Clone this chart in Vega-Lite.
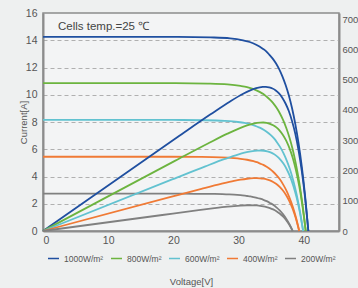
{
"$schema": "https://vega.github.io/schema/vega-lite/v6.json",
"width": 296, "height": 218,
"autosize": {"type": "none"},
"padding": {"left": 43, "top": 13, "right": 19, "bottom": 57},
"background": "#eef0f0",
"config": {
  "view": {"stroke": "#8c8c8c", "strokeWidth": 1.5, "fill": "#f3f4f5"},
  "axis": {"labelFont": "Liberation Sans", "titleFont": "Liberation Sans", "labelColor": "#555555", "titleColor": "#555555", "ticks": false, "domainColor": "#8c8c8c", "domainWidth": 2, "labelFontSize": 10.5, "titleFontWeight": "normal", "titleFontSize": 9.5, "grid": false},
  "text": {"font": "Liberation Sans"}
},
"datasets": {"curves": [
{"s":"1000W/m²","V":0,"I":14.25,"P":0},{"s":"1000W/m²","V":20.7,"I":14.25,"P":311.2},{"s":"1000W/m²","V":25.7,"I":14.21,"P":385.4},{"s":"1000W/m²","V":28.7,"I":14.14,"P":428.0},{"s":"1000W/m²","V":30.7,"I":13.99,"P":453.2},{"s":"1000W/m²","V":31.7,"I":13.87,"P":463.7},{"s":"1000W/m²","V":32.7,"I":13.67,"P":471.5},{"s":"1000W/m²","V":33.7,"I":13.38,"P":475.7},{"s":"1000W/m²","V":34.2,"I":13.20,"P":476.1},{"s":"1000W/m²","V":34.7,"I":12.95,"P":474.2},{"s":"1000W/m²","V":35.2,"I":12.67,"P":470.5},{"s":"1000W/m²","V":35.7,"I":12.33,"P":464.3},{"s":"1000W/m²","V":36.2,"I":11.90,"P":454.4},{"s":"1000W/m²","V":36.7,"I":11.37,"P":440.3},{"s":"1000W/m²","V":37.2,"I":10.73,"P":421.1},{"s":"1000W/m²","V":37.7,"I":9.96,"P":396.2},{"s":"1000W/m²","V":38.2,"I":9.01,"P":362.9},{"s":"1000W/m²","V":38.7,"I":7.85,"P":320.6},{"s":"1000W/m²","V":39.2,"I":6.43,"P":265.8},{"s":"1000W/m²","V":39.7,"I":4.70,"P":197.0},{"s":"1000W/m²","V":40.2,"I":2.58,"P":109.4},{"s":"1000W/m²","V":40.7,"I":0,"P":0},
{"s":"800W/m²","V":0,"I":10.85,"P":0},{"s":"800W/m²","V":20.3,"I":10.85,"P":232.4},{"s":"800W/m²","V":25.3,"I":10.82,"P":288.9},{"s":"800W/m²","V":28.3,"I":10.76,"P":321.4},{"s":"800W/m²","V":30.3,"I":10.65,"P":340.6},{"s":"800W/m²","V":31.3,"I":10.56,"P":348.6},{"s":"800W/m²","V":32.3,"I":10.41,"P":354.6},{"s":"800W/m²","V":33.3,"I":10.19,"P":357.9},{"s":"800W/m²","V":33.8,"I":10.05,"P":358.3},{"s":"800W/m²","V":34.3,"I":9.86,"P":356.9},{"s":"800W/m²","V":34.8,"I":9.65,"P":354.1},{"s":"800W/m²","V":35.3,"I":9.39,"P":349.5},{"s":"800W/m²","V":35.8,"I":9.06,"P":342.2},{"s":"800W/m²","V":36.3,"I":8.66,"P":331.6},{"s":"800W/m²","V":36.8,"I":8.17,"P":317.2},{"s":"800W/m²","V":37.3,"I":7.58,"P":298.5},{"s":"800W/m²","V":37.8,"I":6.86,"P":273.5},{"s":"800W/m²","V":38.3,"I":5.98,"P":241.6},{"s":"800W/m²","V":38.8,"I":4.89,"P":200.3},{"s":"800W/m²","V":39.3,"I":3.58,"P":148.5},{"s":"800W/m²","V":39.8,"I":1.96,"P":82.5},{"s":"800W/m²","V":40.3,"I":0,"P":0},
{"s":"600W/m²","V":0,"I":8.15,"P":0},{"s":"600W/m²","V":19.9,"I":8.15,"P":171.1},{"s":"600W/m²","V":24.9,"I":8.13,"P":213.6},{"s":"600W/m²","V":27.9,"I":8.08,"P":238.0},{"s":"600W/m²","V":29.9,"I":8.00,"P":252.5},{"s":"600W/m²","V":30.9,"I":7.93,"P":258.5},{"s":"600W/m²","V":31.9,"I":7.82,"P":263.0},{"s":"600W/m²","V":32.9,"I":7.65,"P":265.6},{"s":"600W/m²","V":33.4,"I":7.55,"P":265.9},{"s":"600W/m²","V":33.9,"I":7.41,"P":265.0},{"s":"600W/m²","V":34.4,"I":7.25,"P":262.9},{"s":"600W/m²","V":34.9,"I":7.05,"P":259.6},{"s":"600W/m²","V":35.4,"I":6.81,"P":254.1},{"s":"600W/m²","V":35.9,"I":6.50,"P":246.3},{"s":"600W/m²","V":36.4,"I":6.14,"P":235.7},{"s":"600W/m²","V":36.9,"I":5.70,"P":221.8},{"s":"600W/m²","V":37.4,"I":5.15,"P":203.2},{"s":"600W/m²","V":37.9,"I":4.49,"P":179.5},{"s":"600W/m²","V":38.4,"I":3.68,"P":148.9},{"s":"600W/m²","V":38.9,"I":2.69,"P":110.4},{"s":"600W/m²","V":39.4,"I":1.48,"P":61.3},{"s":"600W/m²","V":39.9,"I":0,"P":0},
{"s":"400W/m²","V":0,"I":5.45,"P":0},{"s":"400W/m²","V":19.3,"I":5.45,"P":111.0},{"s":"400W/m²","V":24.3,"I":5.44,"P":139.4},{"s":"400W/m²","V":27.3,"I":5.41,"P":155.7},{"s":"400W/m²","V":29.3,"I":5.35,"P":165.5},{"s":"400W/m²","V":30.3,"I":5.30,"P":169.5},{"s":"400W/m²","V":31.3,"I":5.23,"P":172.6},{"s":"400W/m²","V":32.3,"I":5.12,"P":174.4},{"s":"400W/m²","V":32.8,"I":5.05,"P":174.7},{"s":"400W/m²","V":33.3,"I":4.95,"P":174.1},{"s":"400W/m²","V":33.8,"I":4.85,"P":172.8},{"s":"400W/m²","V":34.3,"I":4.71,"P":170.6},{"s":"400W/m²","V":34.8,"I":4.55,"P":167.1},{"s":"400W/m²","V":35.3,"I":4.35,"P":162.0},{"s":"400W/m²","V":35.8,"I":4.10,"P":155.0},{"s":"400W/m²","V":36.3,"I":3.81,"P":145.9},{"s":"400W/m²","V":36.8,"I":3.44,"P":133.7},{"s":"400W/m²","V":37.3,"I":3.00,"P":118.2},{"s":"400W/m²","V":37.8,"I":2.46,"P":98.0},{"s":"400W/m²","V":38.3,"I":1.80,"P":72.7},{"s":"400W/m²","V":38.8,"I":0.99,"P":40.4},{"s":"400W/m²","V":39.3,"I":0,"P":0},
{"s":"200W/m²","V":0,"I":2.74,"P":0},{"s":"200W/m²","V":18.3,"I":2.74,"P":52.9},{"s":"200W/m²","V":23.3,"I":2.73,"P":67.2},{"s":"200W/m²","V":26.3,"I":2.72,"P":75.4},{"s":"200W/m²","V":28.3,"I":2.69,"P":80.3},{"s":"200W/m²","V":29.3,"I":2.67,"P":82.4},{"s":"200W/m²","V":30.3,"I":2.63,"P":84.0},{"s":"200W/m²","V":31.3,"I":2.57,"P":85.0},{"s":"200W/m²","V":31.8,"I":2.54,"P":85.1},{"s":"200W/m²","V":32.3,"I":2.49,"P":84.9},{"s":"200W/m²","V":32.8,"I":2.44,"P":84.3},{"s":"200W/m²","V":33.3,"I":2.37,"P":83.3},{"s":"200W/m²","V":33.8,"I":2.29,"P":81.6},{"s":"200W/m²","V":34.3,"I":2.19,"P":79.1},{"s":"200W/m²","V":34.8,"I":2.06,"P":75.8},{"s":"200W/m²","V":35.3,"I":1.92,"P":71.3},{"s":"200W/m²","V":35.8,"I":1.73,"P":65.4},{"s":"200W/m²","V":36.3,"I":1.51,"P":57.8},{"s":"200W/m²","V":36.8,"I":1.24,"P":48.0},{"s":"200W/m²","V":37.3,"I":0.90,"P":35.6},{"s":"200W/m²","V":37.8,"I":0.50,"P":19.8},{"s":"200W/m²","V":38.3,"I":0,"P":0}
],
"note": [{"x": 2.3, "y": 15.0, "t": "Cells temp.=25 ℃"}]},
"layer": [
  {
    "data": {"name": "curves"},
    "mark": {"type": "line", "interpolate": "monotone", "strokeWidth": 1.8},
    "encoding": {
      "x": {"field": "V", "type": "quantitative", "scale": {"domain": [0, 45.4], "nice": false}, "axis": {"values": [0, 10, 20, 30, 40], "labelPadding": 4, "title": "Voltage[V]", "titlePadding": 31}},
      "y": {"field": "I", "type": "quantitative", "scale": {"domain": [0, 16], "nice": false}, "axis": {"orient": "left", "values": [0, 2, 4, 6, 8, 10, 12, 14, 16], "grid": true, "gridDash": [4, 3], "gridColor": "#b0b0b0", "gridWidth": 1, "gridOpacity": {"condition": {"test": "datum.value == 0 || datum.value == 16", "value": 0}, "value": 1}, "labelPadding": 6, "title": "Current[A]", "titlePadding": -3}},
      "color": {"field": "s", "type": "nominal", "scale": {"domain": ["1000W/m²", "800W/m²", "600W/m²", "400W/m²", "200W/m²"], "range": ["#1f4fa0", "#6cb43f", "#62c2d0", "#f07a35", "#808080"]}, "legend": {"orient": "none", "legendX": 4, "legendY": 239, "direction": "horizontal", "title": null, "symbolType": "stroke", "symbolSize": 121, "symbolStrokeWidth": 1.5, "labelFont": "Liberation Sans", "labelFontSize": 8.5, "labelColor": "#555555", "labelOffset": 4, "columnPadding": 4, "padding": 0}}
    }
  },
  {
    "data": {"name": "curves"},
    "mark": {"type": "line", "interpolate": "monotone", "strokeWidth": 1.8},
    "encoding": {
      "x": {"field": "V", "type": "quantitative"},
      "y": {"field": "P", "type": "quantitative", "scale": {"domain": [0, 720], "nice": false}, "axis": {"orient": "right", "values": [0, 100, 200, 300, 400, 500, 600, 700], "labelPadding": 3, "labelFontSize": 9.5, "title": null, "grid": false}},
      "color": {"field": "s", "type": "nominal", "scale": {"domain": ["1000W/m²", "800W/m²", "600W/m²", "400W/m²", "200W/m²"], "range": ["#1f4fa0", "#6cb43f", "#62c2d0", "#f07a35", "#808080"]}, "legend": {"orient": "none", "legendX": 4, "legendY": 239, "direction": "horizontal", "title": null, "symbolType": "stroke", "symbolSize": 121, "symbolStrokeWidth": 1.5, "labelFont": "Liberation Sans", "labelFontSize": 8.5, "labelColor": "#555555", "labelOffset": 4, "columnPadding": 4, "padding": 0}}
    }
  },
  {
    "data": {"name": "note"},
    "mark": {"type": "text", "align": "left", "baseline": "middle", "fontSize": 11.5, "color": "#444444", "font": "Liberation Sans"},
    "encoding": {
      "x": {"field": "x", "type": "quantitative"},
      "y": {"field": "y", "type": "quantitative", "scale": {"domain": [0, 16], "nice": false}, "axis": null},
      "text": {"field": "t"}
    }
  }
],
"resolve": {"scale": {"y": "independent"}}
}
